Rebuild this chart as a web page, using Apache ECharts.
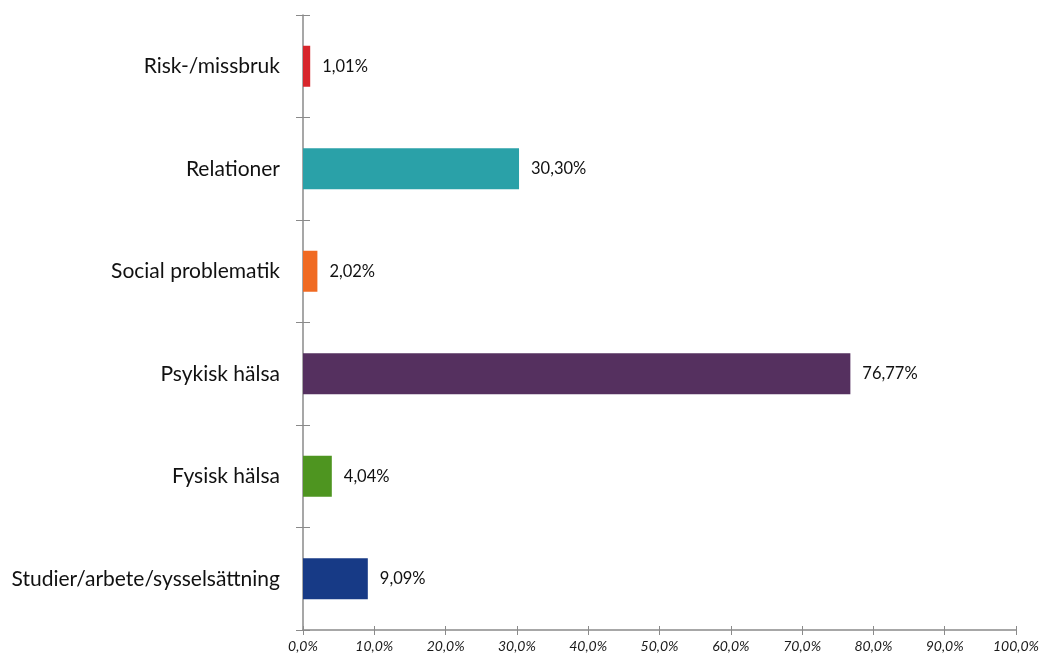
<!DOCTYPE html>
<html>
<head>
<meta charset="utf-8">
<script src="https://cdn.jsdelivr.net/npm/echarts@6/dist/echarts.min.js"></script>
<style>html,body{margin:0;padding:0;background:#fff;}#c{width:1047px;height:660px;}</style>
</head>
<body>
<div id="c"></div>
<script>
const categories = ["Risk-/missbruk", "Relationer", "Social problematik", "Psykisk hälsa", "Fysisk hälsa", "Studier/arbete/sysselsättning"];
const values = [1.01, 30.30, 2.02, 76.77, 4.04, 9.09];
const barColors = ["#d7262c", "#2aa1a8", "#f06a22", "#55305f", "#4e9520", "#173a86"];
const xTicks = [0, 10, 20, 30, 40, 50, 60, 70, 80, 90, 100];

const chart = echarts.init(document.getElementById('c'), null, {renderer: 'canvas'});
const axisCol = '#8a8a8a';
const fmtPct = v => v.toFixed(2).replace('.', ',') + '%';
chart.setOption({
  animation: false,
  grid: {left: 303, right: 31, top: 15, bottom: 30, containLabel: false},
  xAxis: [{
    type: 'value', min: xTicks[0], max: xTicks[xTicks.length - 1], interval: 10,
    axisLine: {show: true, lineStyle: {color: axisCol, width: 1.5}},
    axisTick: {show: true, length: 5, lineStyle: {color: axisCol}},
    splitLine: {show: false},
    axisLabel: {fontFamily: 'Lato', fontStyle: 'italic', fontSize: 14, color: '#1a1a1a', margin: 9,
      formatter: v => v.toFixed(1).replace('.', ',') + '%'}
  }, {
    type: 'value', min: 0, max: 100, interval: 10, position: 'bottom',
    axisLine: {show: false}, axisLabel: {show: false}, splitLine: {show: false},
    axisTick: {show: true, inside: true, length: 4, lineStyle: {color: axisCol}}
  }],
  yAxis: [{
    type: 'category', data: categories, inverse: true,
    axisLine: {show: true, lineStyle: {color: axisCol, width: 1.5}},
    axisTick: {show: true, length: 7, lineStyle: {color: axisCol}},
    axisLabel: {fontFamily: 'Lato', fontSize: 21, color: '#111', margin: 23}
  }, {
    type: 'category', data: categories, inverse: true, position: 'left',
    axisLine: {show: false}, axisLabel: {show: false},
    axisTick: {show: true, inside: true, length: 7, lineStyle: {color: axisCol}}
  }],
  series: [{
    type: 'bar', data: values.map((v, i) => ({value: v, itemStyle: {color: barColors[i]}})),
    barWidth: '40%',
    label: {show: true, position: 'right', distance: 12, fontFamily: 'Lato', fontSize: 16.5, color: '#111',
      formatter: p => fmtPct(p.value)}
  }]
});
</script>
</body>
</html>
